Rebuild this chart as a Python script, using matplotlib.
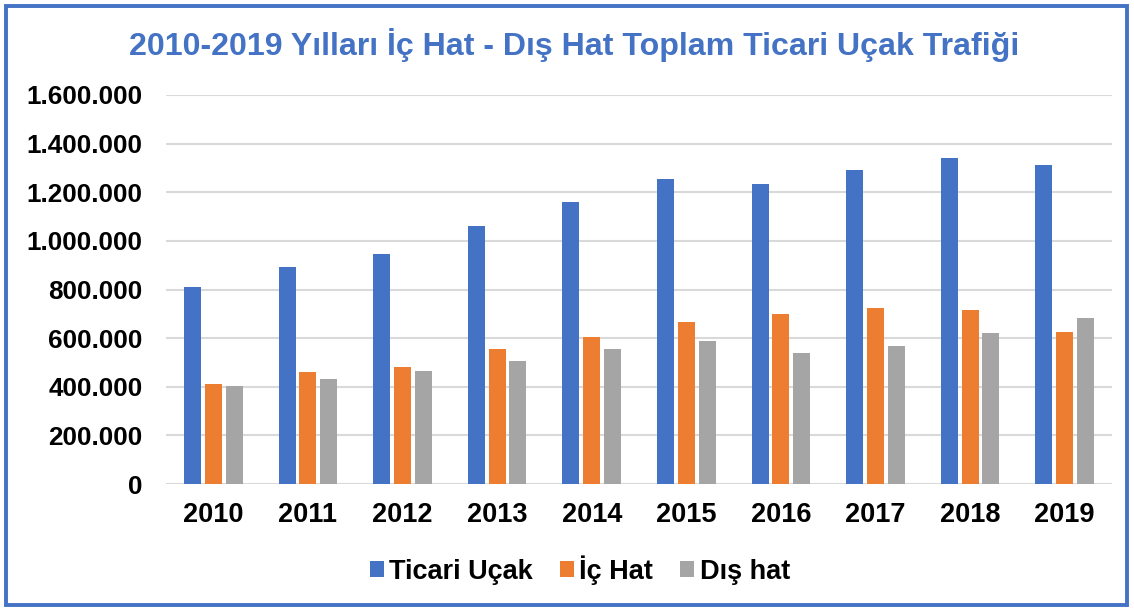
import matplotlib
matplotlib.use("Agg")

import matplotlib.pyplot as plt
from matplotlib.patches import Rectangle
from matplotlib.ticker import FuncFormatter
import numpy as np

# Veriler (grafikten okunan yaklaşık değerler)
years = ["2010", "2011", "2012", "2013", "2014", "2015", "2016", "2017", "2018", "2019"]
ticari_ucak = [810000, 892000, 946000, 1061000, 1160000, 1254000, 1234000, 1291000, 1341000, 1312000]
ic_hat = [411000, 461000, 481000, 555000, 605000, 666000, 699000, 724000, 716000, 625000]
dis_hat = [403000, 432000, 465000, 506000, 555000, 588000, 539000, 568000, 621000, 683000]

series_names = ["Ticari Uçak", "İç Hat", "Dış hat"]
colors = ["#4472C4", "#ED7D31", "#A5A5A5"]

plt.rcParams["font.family"] = ["Liberation Sans", "DejaVu Sans"]
plt.rcParams["font.weight"] = "bold"

fig = plt.figure(figsize=(11.34, 6.11), dpi=100)
ax = fig.add_axes([166 / 1134, 1 - 484 / 611, 946 / 1134, 389 / 611])

x = np.arange(len(years))
offsets = [-0.22, 0.0, 0.22]
for vals, off, col, name in zip([ticari_ucak, ic_hat, dis_hat], offsets, colors, series_names):
    ax.bar(x + off, vals, width=0.18, color=col, label=name, zorder=2)

ax.set_xlim(-0.5, len(years) - 0.5)
ax.set_ylim(0, 1600000)
ax.set_yticks(np.arange(0, 1600001, 200000))
ax.yaxis.set_major_formatter(FuncFormatter(lambda v, p: f"{int(v):,}".replace(",", ".")))
ax.set_xticks(x)
ax.set_xticklabels(years)

ax.grid(axis="y", color="#D9D9D9", linewidth=1.5, zorder=0)
for s in ["top", "right", "left", "bottom"]:
    ax.spines[s].set_visible(False)
ax.tick_params(axis="y", length=0, labelsize=18.8, pad=17)
ax.tick_params(axis="x", length=0, labelsize=19.5, pad=13)
for lbl in ax.get_xticklabels() + ax.get_yticklabels():
    lbl.set_fontweight("bold")

fig.text(574 / 1134, 1 - 45 / 611, "2010-2019 Yılları İç Hat - Dış Hat Toplam Ticari Uçak Trafiği",
         ha="center", va="center", fontsize=23.1, fontweight="bold", color="#4472C4")

handles, labels = ax.get_legend_handles_labels()
leg = fig.legend(handles, labels, loc="center", bbox_to_anchor=(580 / 1134, 1 - 570 / 611),
                 ncol=3, frameon=False, fontsize=19.5, handlelength=0.52, handleheight=0.52,
                 handletextpad=0.19, columnspacing=1.0)
for t in leg.get_texts():
    t.set_fontweight("bold")

# Çerçeve
fig.patches.append(Rectangle((6 / 1134, 6 / 611), 1121 / 1134, 599 / 611,
                             transform=fig.transFigure, fill=False,
                             edgecolor="#4472C4", linewidth=2.8))

plt.savefig("out.png", dpi=100)
plt.close()
